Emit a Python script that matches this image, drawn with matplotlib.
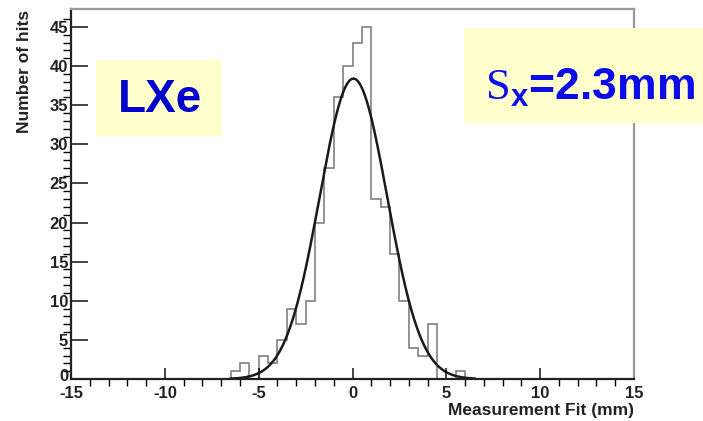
import numpy as np
import matplotlib
matplotlib.use('Agg')
import matplotlib.pyplot as plt
from matplotlib.patches import Rectangle
from matplotlib.transforms import ScaledTranslation

plt.rcParams['font.family'] = ['Liberation Sans', 'DejaVu Sans']
plt.rcParams['axes.unicode_minus'] = False
plt.rcParams['mathtext.fontset'] = 'custom'
plt.rcParams['mathtext.rm'] = 'Liberation Serif'
plt.rcParams['mathtext.bf'] = 'Liberation Sans:bold'

# histogram (bin width 0.5 mm), counts
bin_edges = np.arange(-6.5, 6.01, 0.5)
counts = [1, 2, 0, 3, 2, 5, 9, 7, 10, 20, 27, 36, 40,
          43, 45, 23, 22, 16, 10, 4, 3, 7, 0, 0, 1]

# gaussian fit parameters
fit_const = 38.4
fit_mean = 0.05
fit_sigma = 1.8

W, H = 703, 421
fig = plt.figure(figsize=(W / 100, H / 100), dpi=100)
ax = fig.add_axes([71 / W, 1 - 379 / H, (634 - 71) / W, (379 - 9) / H])

ax.stairs(counts, bin_edges, color='#808080', lw=1.2)
xf = np.linspace(-6.5, 6.5, 400)
ax.plot(xf, fit_const * np.exp(-0.5 * ((xf - fit_mean) / fit_sigma) ** 2),
        color='#1a1a1a', lw=1.8)

ax.set_xlim(-15, 15)
ax.set_ylim(0, 47.3)
ax.set_xticks(np.arange(-15, 16, 5))
ax.set_xticks(np.arange(-15, 16, 1), minor=True)
ax.set_yticks(np.arange(0, 46, 5))
ax.set_yticks(np.arange(0, 47, 1), minor=True)
ax.tick_params(axis='both', direction='in', colors='#222222', width=1.2,
               labelsize=12)
ax.tick_params(axis='x', which='major', length=8, pad=5)
ax.tick_params(axis='x', which='minor', length=5, width=1.0)
ax.tick_params(axis='y', which='major', length=12, pad=2)
ax.tick_params(axis='y', which='minor', length=6, width=1.0)
for lab in ax.get_xticklabels() + ax.get_yticklabels():
    lab.set_fontweight('bold')

# nudge the y "0" up so it does not sit on the x "-15"
ylab0 = ax.get_yticklabels()[0]
ylab0.set_transform(ylab0.get_transform() + ScaledTranslation(0, 4 / 100, fig.dpi_scale_trans))

for s in ['left', 'bottom']:
    ax.spines[s].set_color('#222222')
    ax.spines[s].set_linewidth(1.6)
for s in ['top', 'right']:
    ax.spines[s].set_color('#999999')
    ax.spines[s].set_linewidth(1.6)

fig.text(634 / W, 1 - 411 / H, 'Measurement Fit (mm)', ha='right', va='center',
         fontsize=12.5, fontweight='bold', color='#222222')
fig.text(25 / W, 1 - 10 / H, 'Number of hits', rotation=90, ha='center', va='top',
         fontsize=12.5, fontweight='bold', color='#222222')

# label boxes
fig.patches.append(Rectangle((96 / W, 1 - 136 / H), 126 / W, 76 / H,
                             transform=fig.transFigure, facecolor='#ffffcc',
                             edgecolor='none', zorder=3))
fig.text(160 / W, 1 - 112 / H, 'LXe', ha='center', va='baseline', fontsize=33,
         fontweight='bold', color='#0000cc', zorder=4)

fig.patches.append(Rectangle((464 / W, 1 - 123 / H), 239 / W, 95 / H,
                             transform=fig.transFigure, facecolor='#ffffcc',
                             edgecolor='none', zorder=3))
fig.text(485 / W, 1 - 100 / H, r'$\mathrm{S}_{\mathbf{x}}$=2.3mm', ha='left',
         va='baseline', fontsize=32, fontweight='bold', color='#0d0de8', zorder=4)

fig.savefig('out.png', dpi=100)
